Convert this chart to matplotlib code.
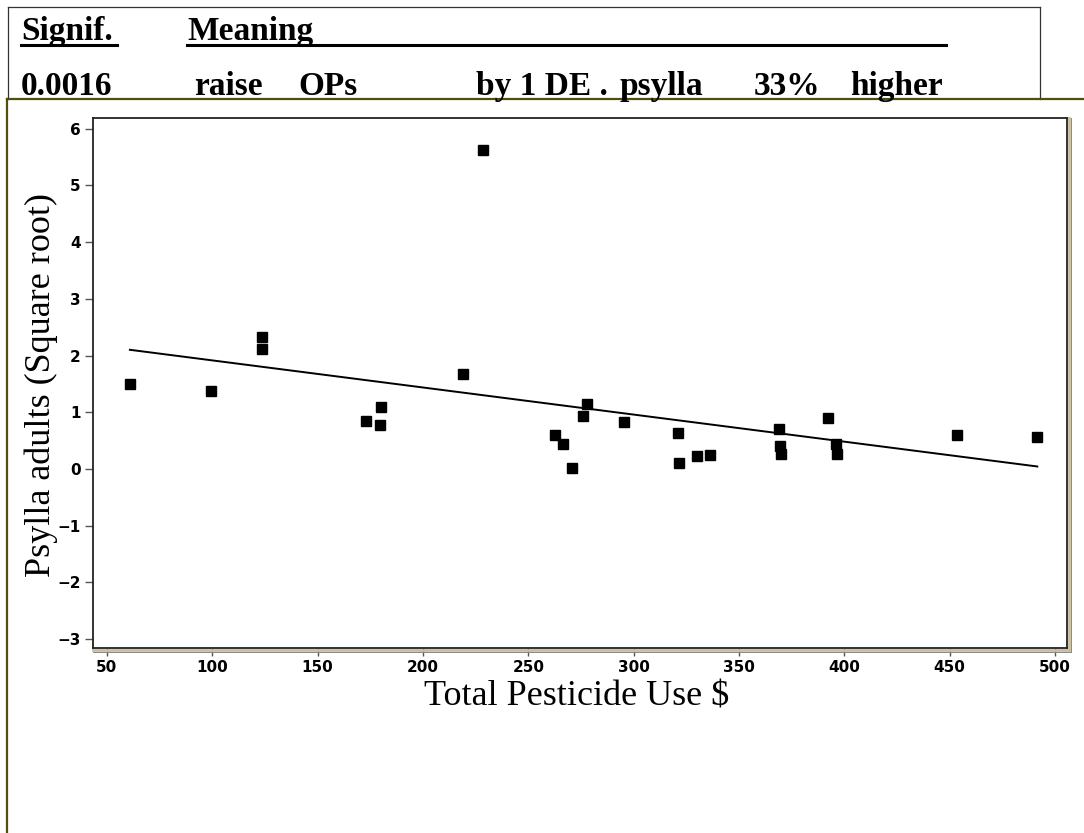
import matplotlib
matplotlib.use("Agg")
import matplotlib.pyplot as plt
from matplotlib.lines import Line2D
import numpy as np

W, H = 1084, 833

# total pesticide use ($) and psylla adults (square root), one entry per orchard
pesticide_use = [60.9, 99.4, 123.6, 123.6, 173.0, 179.6, 180.0, 219.0, 228.5,
                 262.7, 266.5, 270.8, 276.0, 277.9, 295.6, 321.0, 321.6, 330.0,
                 336.3, 369.0, 369.5, 370.0, 392.4, 396.0, 396.6, 453.6, 491.6]
psylla_sqrt = [1.50, 1.38, 2.33, 2.12, 0.85, 0.78, 1.09, 1.68, 5.62,
               0.59, 0.44, 0.02, 0.94, 1.15, 0.83, 0.64, 0.11, 0.23,
               0.24, 0.70, 0.41, 0.27, 0.90, 0.44, 0.27, 0.60, 0.56]

# fitted regression line
fit_intercept = 2.392
fit_slope = -0.00478

x_ticks = [50, 100, 150, 200, 250, 300, 350, 400, 450, 500]
y_ticks = [-3, -2, -1, 0, 1, 2, 3, 4, 5, 6]

header_top = [("Signif.", 21), ("Meaning", 187)]
header_row = [("0.0016", 21), ("raise", 194), ("OPs", 298),
              ("by 1 DE .", 476), ("psylla", 620), ("33%", 754), ("higher", 850)]


def fx(px):
    return px / W


def fy(py):
    return 1 - py / H


fig = plt.figure(figsize=(W / 100, H / 100), dpi=100)
fig.patch.set_facecolor("white")

# table box above the plot
olive = "#4f4f0e"
fig.add_artist(Line2D([fx(8), fx(1040)], [fy(7), fy(7)], color="#333333", lw=0.9))
fig.add_artist(Line2D([fx(8), fx(8)], [fy(7), fy(99)], color="#333333", lw=0.9))
fig.add_artist(Line2D([fx(1040), fx(1040)], [fy(7), fy(99)], color="#333333", lw=0.9))
fig.add_artist(Line2D([fx(7), fx(W)], [fy(99), fy(99)], color=olive, lw=1.6))
fig.add_artist(Line2D([fx(7), fx(7)], [fy(99), fy(H)], color=olive, lw=1.6))

hfont = dict(family="Liberation Serif", weight="bold", size=24)
for txt, px in header_top:
    fig.text(fx(px), fy(40), txt, va="baseline", ha="left", **hfont)
for txt, px in header_row:
    fig.text(fx(px), fy(95), txt, va="baseline", ha="left", **hfont)
fig.add_artist(Line2D([fx(21), fx(117)], [fy(45), fy(45)], color="black", lw=2.2))
fig.add_artist(Line2D([fx(187), fx(946)], [fy(45), fy(45)], color="black", lw=2.2))

# scatter plot
ax = fig.add_axes([fx(93), fy(648), fx(1067) - fx(93), fy(118) - fy(648)])
ax.set_xlim(43.4, 505.7)
ax.set_ylim(-3.16, 6.19)

ax.plot(pesticide_use, psylla_sqrt, linestyle="none", marker="s",
        markersize=6.5, color="black")
xs = np.array([min(pesticide_use), max(pesticide_use)])
ax.plot(xs, fit_intercept + fit_slope * xs, color="black", lw=1.4)

ax.set_xticks(x_ticks)
ax.set_yticks(y_ticks)
ax.tick_params(direction="out", length=6, width=1, color="#555555", pad=3)
for lab in ax.get_xticklabels() + ax.get_yticklabels():
    lab.set_fontfamily("DejaVu Sans")
    lab.set_fontweight("bold")
    lab.set_fontsize(11)
for sp in ax.spines.values():
    sp.set_color("#222222")
    sp.set_linewidth(1.3)

# double outline along the bottom and right of the frame
fig.add_artist(Line2D([fx(93), fx(1069)], [fy(650), fy(650)], color="#cbbd9e", lw=2))
fig.add_artist(Line2D([fx(1069), fx(1069)], [fy(118), fy(650)], color="#cbbd9e", lw=2))
fig.add_artist(Line2D([fx(93), fx(1071)], [fy(652), fy(652)], color="#8a8a8a", lw=0.7))
fig.add_artist(Line2D([fx(1071), fx(1071)], [fy(118), fy(652)], color="#8a8a8a", lw=0.7))

fig.text(fx(577), fy(706), "Total Pesticide Use $", ha="center", va="baseline",
         family="Liberation Serif", size=26)
fig.text(fx(41), fy(385), "Psylla adults (Square root)", ha="center", va="center",
         rotation=90, family="Liberation Serif", size=26)

fig.savefig("out.png", dpi=100)
